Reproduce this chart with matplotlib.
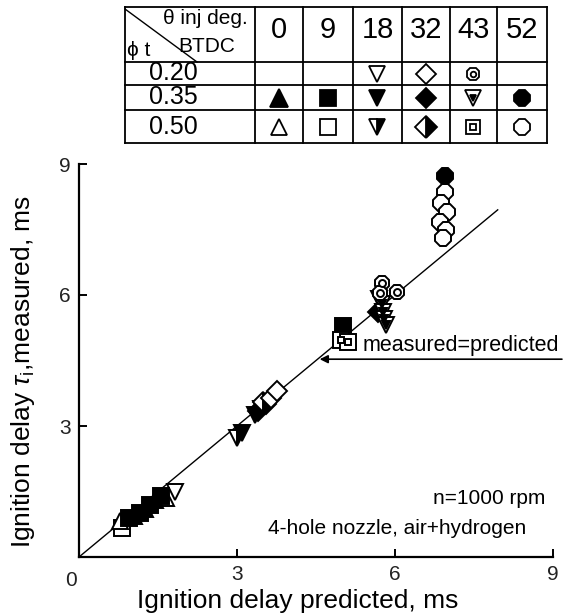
import matplotlib
matplotlib.use("Agg")
import matplotlib.pyplot as plt
from matplotlib import font_manager

names = {f.name for f in font_manager.fontManager.ttflist}
BASE = "Liberation Sans" if "Liberation Sans" in names else "DejaVu Sans"
NARROW = "Liberation Sans Narrow" if "Liberation Sans Narrow" in names else BASE
plt.rcParams["font.family"] = [BASE, "DejaVu Sans"]
plt.rcParams["mathtext.fontset"] = "custom"
plt.rcParams["mathtext.rm"] = BASE
plt.rcParams["mathtext.it"] = BASE + ":italic"

# ---------------- data ----------------
# phi_t = 0.35, theta = 0 (filled up-triangle)
tri_f_x = [1.05, 1.25, 1.45]
tri_f_y = [0.95, 1.10, 1.30]
# phi_t = 0.50, theta = 0 (open up-triangle)
tri_o_x = [0.78, 1.65]
tri_o_y = [0.82, 1.35]
# phi_t = 0.35, theta = 9 (filled square)
sq_f_x = [0.95, 1.15, 1.35, 1.55, 5.02]
sq_f_y = [0.90, 1.00, 1.20, 1.40, 5.30]
# phi_t = 0.50, theta = 9 (open square)
sq_o_x = [0.82]
sq_o_y = [0.66]
# phi_t = 0.20, theta = 18 (open down-triangle)
dn_o_x = [1.82]
dn_o_y = [1.50]
# phi_t = 0.35, theta = 18 (filled down-triangle)
dn_f_x = [3.10, 3.35, 3.45, 5.70]
dn_f_y = [2.85, 3.25, 3.40, 5.90]
# phi_t = 0.50, theta = 18 (half-filled down-triangle)
dn_h_x = [3.00]
dn_h_y = [2.72]
# phi_t = 0.20, theta = 32 (open diamond)
dia_o_x = [3.65, 3.75]
dia_o_y = [3.65, 3.80]
# phi_t = 0.35, theta = 32 (filled diamond)
dia_f_x = [3.40, 3.55, 5.68]
dia_f_y = [3.35, 3.50, 5.60]
# phi_t = 0.50, theta = 32 (half-filled diamond)
dia_h_x = [3.50]
dia_h_y = [3.55]
# phi_t = 0.20, theta = 43 (ring)
ring_x = [5.75, 5.72, 6.03]
ring_y = [6.28, 6.05, 6.07]
# phi_t = 0.35, theta = 43 (down-triangle in down-triangle)
dn2_x = [5.75, 5.78, 5.80, 5.82]
dn2_y = [5.80, 5.62, 5.45, 5.32]
# phi_t = 0.50, theta = 43 (square in square)
sq2_x = [4.98, 5.10]
sq2_y = [4.98, 4.92]
# phi_t = 0.35, theta = 52 (filled octagon)
oct_f_x = [6.94]
oct_f_y = [8.72]
# phi_t = 0.50, theta = 52 (open octagon)
oct_o_x = [6.95, 6.88, 6.98, 6.86, 6.96, 6.92]
oct_o_y = [8.35, 8.10, 7.90, 7.68, 7.50, 7.30]

theta_labels = ["0", "9", "18", "32", "43", "52"]
phi_labels = ["0.20", "0.35", "0.50"]
ticks = [3, 6, 9]
diag_end = 7.95

W, H = 569, 615
fig = plt.figure(figsize=(W / 100, H / 100), dpi=100)

# ---------------- main axes ----------------
L, R, T, B = 79, 553, 164, 557
ax = fig.add_axes([L / W, 1 - B / H, (R - L) / W, (B - T) / H])
ax.set_xlim(0, 9)
ax.set_ylim(0, 9)
for s in ("top", "right"):
    ax.spines[s].set_visible(False)
for s in ("left", "bottom"):
    ax.spines[s].set_linewidth(1.6)
ax.set_xticks(ticks)
ax.set_yticks(ticks)
ax.tick_params(direction="in", length=6, width=1.4, labelsize=15, pad=6,
               labelcolor="#222222")
ax.text(-0.005, -0.035, "0", transform=ax.transAxes, ha="right", va="top",
        fontsize=15, color="#222222")

ax.plot([0, diag_end], [0, diag_end], color="black", lw=1.0, zorder=1)

ms = 11
mew = 1.4
def mk(x, y, marker, fill, size=ms, **kw):
    face = "black" if fill else "white"
    ax.plot(x, y, linestyle="none", marker=marker, markersize=size,
            markerfacecolor=face, markeredgecolor="black", markeredgewidth=mew,
            zorder=3, clip_on=False, **kw)

mk(sq_o_x, sq_o_y, "s", False)
mk(tri_o_x, tri_o_y, "^", False)
mk(dn_o_x, dn_o_y, "v", False)
mk(sq_f_x, sq_f_y, "s", True)
mk(tri_f_x, tri_f_y, "^", True)
mk(dn_h_x, dn_h_y, "v", True, fillstyle="right", markerfacecoloralt="white")
mk(dn_f_x, dn_f_y, "v", True)
mk(dia_f_x, dia_f_y, "D", True, size=10)
mk(dia_h_x, dia_h_y, "D", True, size=10, fillstyle="right", markerfacecoloralt="white")
mk(dia_o_x, dia_o_y, "D", False, size=10)
mk(sq2_x, sq2_y, "s", False)
mk(sq2_x, sq2_y, "s", False, size=5)
mk(dn2_x, dn2_y, "v", False)
mk(dn2_x, dn2_y, "v", True, size=6)
mk(ring_x, ring_y, "8", False)
mk(ring_x, ring_y, "o", False, size=5)
mk(oct_o_x, oct_o_y, "8", False, size=12)
mk(oct_f_x, oct_f_y, "8", True, size=12)

ax.annotate("", xy=(4.57, 4.53), xytext=(9.17, 4.53),
            arrowprops=dict(arrowstyle="-|>", color="black", lw=1.2,
                            mutation_scale=12, shrinkA=0, shrinkB=0),
            annotation_clip=False)
ax.text(5.39, 4.85, "measured=predicted", fontsize=15.5, ha="left", va="center")
ax.text(8.85, 1.35, "n=1000 rpm", fontsize=15, ha="right", va="center")
ax.text(8.5, 0.66, "4-hole nozzle, air+hydrogen", fontsize=15, ha="right", va="center")

ax.set_xlabel("Ignition delay predicted, ms", fontsize=19)
ax.xaxis.set_label_coords((298 - L) / (R - L), (B - 601) / (B - T))
ax.xaxis.label.set_va("center")
ax.set_ylabel(r"Ignition delay $\tau_{\rm i}$,measured, ms", fontsize=19)
ax.yaxis.set_label_coords((23 - L) / (R - L), (B - 372) / (B - T))
ax.yaxis.label.set_va("center")

# ---------------- table (pixel coordinates) ----------------
tx = fig.add_axes([0, 0, 1, 1], zorder=-1)
tx.set_xlim(0, W)
tx.set_ylim(H, 0)
tx.axis("off")
col_edges = [125, 255, 303, 353, 402, 450, 497, 547]
row_edges = [7, 62, 85, 110, 143]
lw_t = 1.3
for xe in col_edges:
    tx.plot([xe, xe], [row_edges[0], row_edges[-1]], color="black", lw=lw_t)
for ye in row_edges:
    tx.plot([col_edges[0], col_edges[-1]], [ye, ye], color="black", lw=lw_t)
tx.plot([125, 197], [9, 62], color="black", lw=1.0)
NF = [NARROW, "DejaVu Sans"]
tx.text(205, 19, "θ inj deg.", fontsize=15, ha="center", va="center", family=NF)
tx.text(207, 46, "BTDC", fontsize=15, ha="center", va="center", family=NF)
tx.text(139, 51, "ϕ t", fontsize=15, ha="center", va="center", family=NF)
col_c = [(col_edges[i] + col_edges[i + 1]) / 2 for i in range(1, 7)]
for c, lab in zip(col_c, theta_labels):
    tx.text(c, 30, lab, fontsize=21, ha="center", va="center", family=NF)
row_c = [(row_edges[i] + row_edges[i + 1]) / 2 for i in range(1, 4)]
for r, lab in zip(row_c, phi_labels):
    tx.text(173, r, lab, fontsize=18, ha="center", va="center", family=NF)

def tm(c, r, marker, fill, size=11, **kw):
    face = "black" if fill else "white"
    tx.plot([col_c[c]], [row_c[r]], linestyle="none", marker=marker, markersize=size,
            markerfacecolor=face, markeredgecolor="black", markeredgewidth=1.3, **kw)

tm(2, 0, "v", False)
tm(3, 0, "D", False, size=10)
tm(4, 0, "8", False, size=10)
tm(4, 0, "o", False, size=4)
tm(0, 1, "^", True, size=13)
tm(1, 1, "s", True)
tm(2, 1, "v", True, size=12)
tm(3, 1, "D", True, size=10)
tm(4, 1, "v", False, size=11)
tm(4, 1, "v", True, size=5)
tm(5, 1, "8", True, size=12)
tm(0, 2, "^", False)
tm(1, 2, "s", False, size=12)
tm(2, 2, "v", True, fillstyle="right", markerfacecoloralt="white")
tm(3, 2, "D", True, size=11, fillstyle="right", markerfacecoloralt="white")
tm(4, 2, "s", False, size=10)
tm(4, 2, "s", False, size=4)
tm(5, 2, "8", False, size=12)

fig.savefig("out.png", dpi=100)
